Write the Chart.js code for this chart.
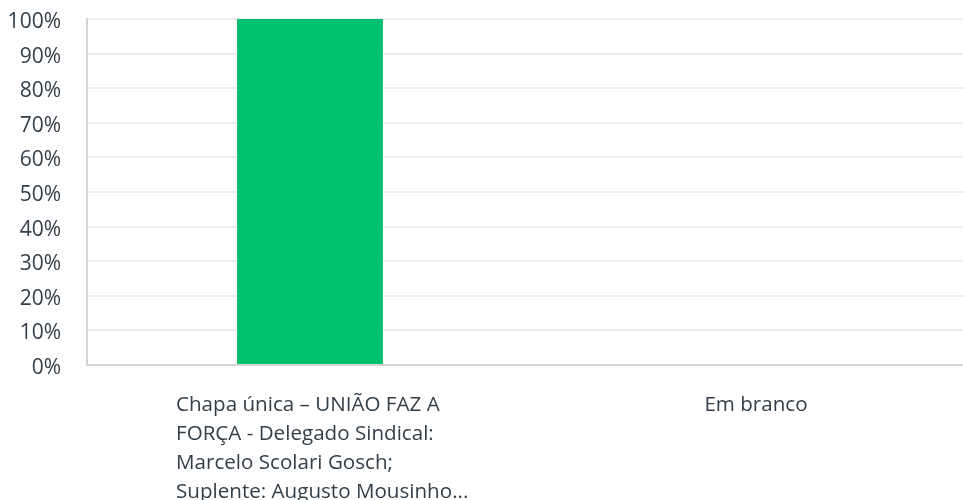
<!DOCTYPE html>
<html>
<head>
<meta charset="utf-8">
<script src="https://cdn.jsdelivr.net/npm/chart.js@4/dist/chart.umd.min.js"></script>
<style>
  html, body { margin: 0; padding: 0; background: #fff; overflow: hidden; }
  #chart { display: block; }
</style>
</head>
<body>
<canvas id="chart" width="979" height="500"></canvas>
<script>
const categories = [
  ["Chapa única – UNIÃO FAZ A", "FORÇA - Delegado Sindical:", "Marcelo Scolari Gosch;", "Suplente: Augusto Mousinho..."],
  ["Em branco"]
];
const values = [100, 0];
const yTicks = [0, 10, 20, 30, 40, 50, 60, 70, 80, 90, 100];

const textColor = "#333e48";
const fontFamily = "'Open Sans', sans-serif";

// x labels: lines left aligned inside a block centred on the category
const xLabels = {
  id: "xLabels",
  afterDraw(chart) {
    let ctx = chart.ctx;
    let xs = chart.scales.x;
    ctx.save();
    ctx.font = "20.6px " + fontFamily;
    ctx.fillStyle = textColor;
    ctx.textAlign = "left";
    ctx.textBaseline = "alphabetic";
    categories.forEach((lines, i) => {
      let cx = xs.getPixelForValue(i);
      let w = Math.max(...lines.map(l => ctx.measureText(l).width));
      let left = cx - Math.min(w, 268) / 2;
      lines.forEach((line, j) => {
        ctx.fillText(line, left, xs.top + 46 + j * 29);
      });
    });
    ctx.restore();
  }
};

let ctx = document.getElementById("chart").getContext("2d");
const chart = new Chart(ctx, {
  type: "bar",
  data: {
    labels: categories.map((c, i) => i),
    datasets: [
      {
        data: values,
        backgroundColor: "#00bf6f",
        borderWidth: 0,
        categoryPercentage: 1,
        barPercentage: 0.327
      }
    ]
  },
  options: {
    responsive: false,
    animation: false,
    layout: { padding: { top: 19, right: 0, left: 0, bottom: 0 } },
    plugins: { legend: { display: false }, tooltip: { enabled: false } },
    scales: {
      x: {
        grid: { display: false },
        border: { color: "#d3d3d3", width: 2 },
        ticks: { display: false },
        afterFit: s => { s.height = 135; }
      },
      y: {
        min: 0,
        max: 100,
        afterBuildTicks: s => { s.ticks = yTicks.map(v => ({ value: v })); },
        grid: { color: "#eeeeee", lineWidth: 2, drawTicks: true, tickLength: 26, tickColor: "rgba(0,0,0,0)" },
        border: { color: "#d3d3d3", width: 2 },
        ticks: {
          padding: 0,
          labelOffset: 3,
          color: textColor,
          font: { size: 21, family: fontFamily },
          callback: v => v + "%"
        },
        afterFit: s => { s.width = 87; }
      }
    }
  },
  plugins: [xLabels]
});
</script>
</body>
</html>
